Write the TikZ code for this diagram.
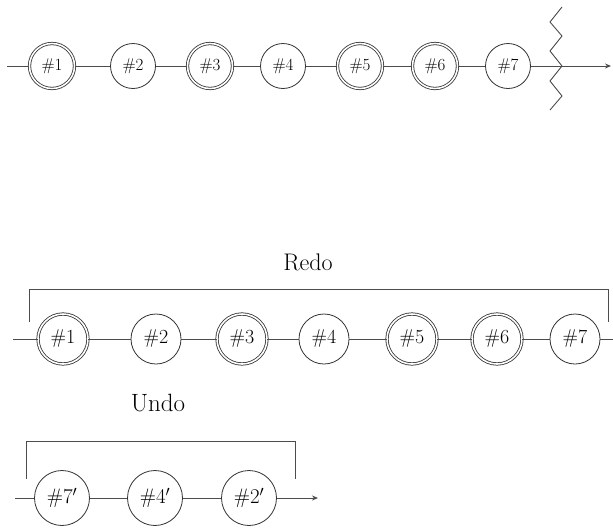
\documentclass[tikz,border=0pt]{standalone}
\usepackage{fix-cm}
\usepackage{fontspec}
\usepackage{amsmath}
\usetikzlibrary{arrows.meta}

\begin{document}
\begin{tikzpicture}[x=1pt,y=-1pt,
		line/.style={draw=black!70,line width=0.9pt},
		rec/.style={circle,draw=black!80,line width=0.8pt,fill=white,inner sep=0pt,minimum size=45pt,font=\fontsize{17}{20}\selectfont},
		big/.style={rec,minimum size=50pt,font=\fontsize{20}{24}\selectfont},
		undo/.style={rec,minimum size=55pt,font=\fontsize{21}{25}\selectfont},
		saved/.style={double=white,double distance=1.6pt}]
		\useasboundingbox (0,0) rectangle (613,528);
		% log before the crash
		\coordinate (ts) at (7,66);
		\node[rec,saved] (t1) at (52,66) {\#1};
		\node[rec] (t2) at (133,66) {\#2};
		\node[rec,saved] (t3) at (210,66) {\#3};
		\node[rec] (t4) at (283,66) {\#4};
		\node[rec,saved] (t5) at (360,66) {\#5};
		\node[rec,saved] (t6) at (435,66) {\#6};
		\node[rec] (t7) at (508,66) {\#7};
		\coordinate (crash) at (562,66);
		\coordinate (te) at (611,66);
		\draw [line] (ts) -- (t1) -- (t2) -- (t3) -- (t4) -- (t5) -- (t6) -- (t7) -- (crash);
		\draw [line,-{Stealth[length=6pt,width=5pt]}] (crash) -- (te);
		\draw [line] (562,7) -- (550,22) -- (562,36) -- (550,51) -- (crash) -- (550,81) -- (562,96) -- (550,110);
		% redo pass
		\coordinate (rs) at (13,339);
		\node[big,saved] (r1) at (63,339) {\#1};
		\node[big] (r2) at (156,339) {\#2};
		\node[big,saved] (r3) at (242,339) {\#3};
		\node[big] (r4) at (324,339) {\#4};
		\node[big,saved] (r5) at (412,339) {\#5};
		\node[big,saved] (r6) at (497,339) {\#6};
		\node[big] (r7) at (575,339) {\#7};
		\coordinate (re) at (613,339);
		\draw [line] (rs) -- (r1) -- (r2) -- (r3) -- (r4) -- (r5) -- (r6) -- (r7) -- (re);
		\draw [line] (29,322) -- (29,289) -- (608,289) -- (608,322);
		\node[font=\fontsize{24}{28}\selectfont] (redo) at (308,262) {Redo};
		% undo pass
		\coordinate (us) at (15,498);
		\node[undo] (u1) at (62,498) {\#7$'$};
		\node[undo] (u2) at (155,498) {\#4$'$};
		\node[undo] (u3) at (249,498) {\#2$'$};
		\coordinate (ue) at (318,498);
		\draw [line] (us) -- (u1) -- (u2) -- (u3);
		\draw [line,-{Stealth[length=6pt,width=5pt]}] (u3) -- (ue);
		\draw [line] (26,479) -- (26,441) -- (295,441) -- (295,479);
		\node[font=\fontsize{25}{30}\selectfont] (undolbl) at (158,403) {Undo};
	\end{tikzpicture}
\end{document}
